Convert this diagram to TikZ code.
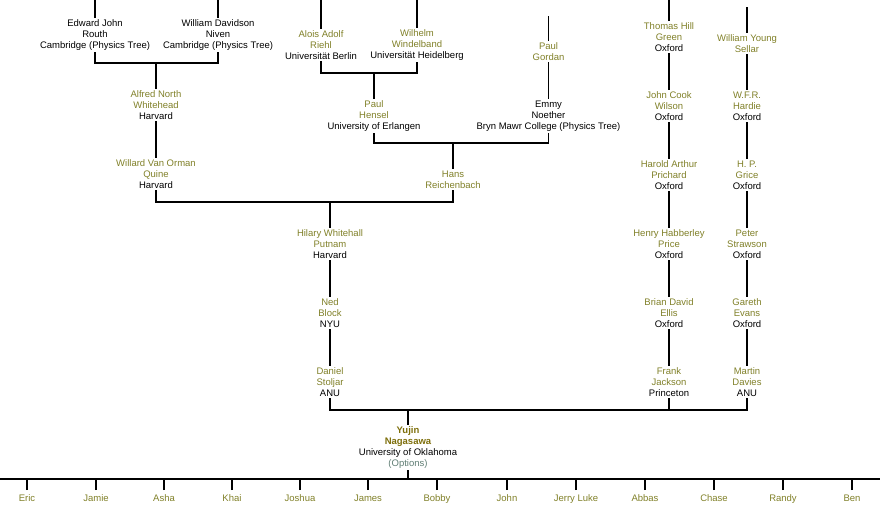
\documentclass[tikz,border=0pt]{standalone}
\usepackage{fontspec}
\setmainfont{Liberation Sans}
\usetikzlibrary{positioning, calc}

\definecolor{namecol}{RGB}{128,128,40}
\definecolor{mecol}{RGB}{125,110,10}
\definecolor{optcol}{RGB}{95,125,115}

\begin{document}
\begin{tikzpicture}[
    x=1pt, y=-1pt,
    person/.style={align=center, inner sep=1.5pt, yshift=-1pt, text=namecol, font=\fontsize{9.5}{11}\selectfont},
    physics/.style={person, text=black},
    student/.style={person, anchor=north, yshift=0pt, inner xsep=1pt, inner ysep=1pt, text height=10.5pt},
    tree/.style={line width=1.1pt, black}
]
\useasboundingbox (0,0) rectangle (880,507);
\clip (0,0) rectangle (880,507);

% 1. top generation
\node[physics] (routh) at (95, 34) {Edward John\\Routh\\Cambridge (Physics Tree)};
\node[physics] (niven) at (218, 34) {William Davidson\\Niven\\Cambridge (Physics Tree)};
\node[person] (riehl) at (321, 44) {Alois Adolf\\Riehl\\{\color{black}Universität Berlin}};
\node[person] (windelband) at (417, 44) {Wilhelm\\Windelband\\{\color{black}Universität Heidelberg}};
\node[person] (gordan) at (548.5, 50.5) {Paul\\Gordan};
\node[person] (green) at (669, 36) {Thomas Hill\\Green\\{\color{black}Oxford}};
\node[person] (sellar) at (747, 42.5) {William Young\\Sellar};

% 2. second row
\node[person] (whitehead) at (156, 104) {Alfred North\\Whitehead\\{\color{black}Harvard}};
\node[person] (hensel) at (374, 115) {Paul\\Hensel\\{\color{black}University of Erlangen}};
\node[physics] (noether) at (548.5, 115) {Emmy\\Noether\\Bryn Mawr College (Physics Tree)};
\node[person] (wilson) at (669, 105) {John Cook\\Wilson\\{\color{black}Oxford}};
\node[person] (hardie) at (747, 105) {W.F.R.\\Hardie\\{\color{black}Oxford}};

% 3. third row
\node[person] (quine) at (156, 173) {Willard Van Orman\\Quine\\{\color{black}Harvard}};
\node[person] (reichenbach) at (453, 178.5) {Hans\\Reichenbach};
\node[person] (prichard) at (669, 174) {Harold Arthur\\Prichard\\{\color{black}Oxford}};
\node[person] (grice) at (747, 174) {H. P.\\Grice\\{\color{black}Oxford}};

% 4. lower rows
\node[person] (putnam) at (330, 243) {Hilary Whitehall\\Putnam\\{\color{black}Harvard}};
\node[person] (price) at (669, 243) {Henry Habberley\\Price\\{\color{black}Oxford}};
\node[person] (strawson) at (747, 243) {Peter\\Strawson\\{\color{black}Oxford}};
\node[person] (block) at (330, 312) {Ned\\Block\\{\color{black}NYU}};
\node[person] (ellis) at (669, 312) {Brian David\\Ellis\\{\color{black}Oxford}};
\node[person] (evans) at (747, 312) {Gareth\\Evans\\{\color{black}Oxford}};
\node[person] (stoljar) at (330, 381) {Daniel\\Stoljar\\{\color{black}ANU}};
\node[person] (jackson) at (669, 381) {Frank\\Jackson\\{\color{black}Princeton}};
\node[person] (davies) at (747, 381) {Martin\\Davies\\{\color{black}ANU}};

% 5. focus node
\node[person, text=mecol, yshift=-1pt] (nagasawa) at (408, 445.5) {\bfseries Yujin\\\bfseries Nagasawa\\{\color{black}University of Oklahoma}\\{\color{optcol}(Options)}};

% 6. free ends above the frame
\coordinate (routhup) at (95, -10);
\coordinate (nivenup) at (218, -10);
\coordinate (riehlup) at (321, -10);
\coordinate (windelbandup) at (417, -10);
\coordinate (gordanup) at (548.5, 16);
\coordinate (greenup) at (669, -10);
\coordinate (sellarup) at (747, 7);
\draw[tree] (routhup) -- (routh.north);
\draw[tree] (nivenup) -- (niven.north);
\draw[tree] (riehlup) -- (riehl.north);
\draw[tree] (windelbandup) -- (windelband.north);
\draw[tree] (gordanup) -- (gordan.north);
\draw[tree] (greenup) -- (green.north);
\draw[tree] (sellarup) -- (sellar.north);

% 7. joins
\coordinate (jwhitehead) at (156, 63);
\draw[tree] (routh.south) |- (jwhitehead) -| (niven.south);
\draw[tree] (jwhitehead) -- (whitehead.north);

\coordinate (jhensel) at (374, 73);
\draw[tree] (riehl.south) |- (jhensel) -| (windelband.south);
\draw[tree] (jhensel) -- (hensel.north);

\draw[tree] (gordan.south) -- (noether.north);
\draw[tree] (whitehead.south) -- (quine.north);
\draw[tree] (green.south) -- (wilson.north);
\draw[tree] (sellar.south) -- (hardie.north);

\coordinate (jreichenbach) at (453, 143);
\draw[tree] (hensel.south) |- (jreichenbach) -| (noether.south);
\draw[tree] (jreichenbach) -- (reichenbach.north);

\coordinate (jputnam) at (330, 202);
\draw[tree] (quine.south) |- (jputnam) -| (reichenbach.south);
\draw[tree] (jputnam) -- (putnam.north);

\draw[tree] (wilson.south) -- (prichard.north);
\draw[tree] (hardie.south) -- (grice.north);
\draw[tree] (prichard.south) -- (price.north);
\draw[tree] (grice.south) -- (strawson.north);
\draw[tree] (putnam.south) -- (block.north);
\draw[tree] (price.south) -- (ellis.north);
\draw[tree] (strawson.south) -- (evans.north);
\draw[tree] (block.south) -- (stoljar.north);
\draw[tree] (ellis.south) -- (jackson.north);
\draw[tree] (evans.south) -- (davies.north);

\coordinate (jnagasawa) at (408, 410);
\draw[tree] (stoljar.south) |- (jnagasawa) -| (davies.south);
\draw[tree] (jackson.south) -- (jackson.south |- jnagasawa);
\draw[tree] (jnagasawa) -- (nagasawa.north);

% 8. students
\coordinate (jstudents) at (408, 479);
\coordinate (lft) at (-10, 479);
\coordinate (rgt) at (890, 479);
\draw[tree] (nagasawa.south) -- (jstudents);
\draw[tree] (lft) -- (rgt);
\foreach \x/\who [count=\i] in {27/Eric, 96/Jamie, 164/Asha, 232/Khai, 300/Joshua, 368/James,
    437/Bobby, 507/John, 576/Jerry Luke, 645/Abbas, 714/Chase, 783/Randy, 852/Ben} {
  \node[student] (s\i) at (\x, 489) {\who};
  \draw[tree] (s\i.north) -- (s\i.north |- jstudents);
}

\end{tikzpicture}
\end{document}
